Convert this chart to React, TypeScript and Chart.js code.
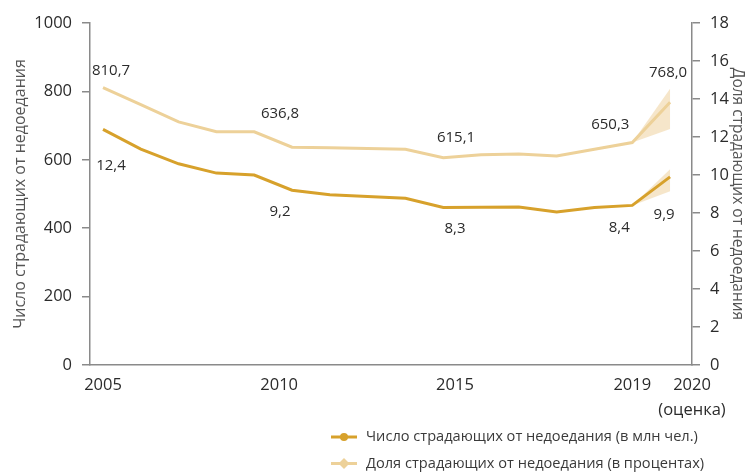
import React, { useEffect, useRef } from 'react';
import { Chart, registerables } from 'chart.js';

Chart.register(...registerables);

// ---------- data ----------
const years = [2005, 2006, 2007, 2008, 2009, 2010, 2011, 2012, 2013, 2014, 2015, 2016, 2017, 2018, 2019, 2020];
// light line, left axis (millions)
const countMillions = [810.7, 761, 711, 682, 682, 636.8, 635, 633, 631, 606, 615.1, 617, 611, 631, 650.3, 768.0];
// dark line, right axis (percent)
const sharePercent = [12.4, 11.36, 10.59, 10.1, 10.0, 9.2, 8.96, 8.87, 8.78, 8.29, 8.3, 8.31, 8.05, 8.29, 8.4, 9.9];
// 2020 estimate ranges
const countRange2020 = [690, 808];
const shareRange2020 = [9.15, 10.3];

const labeledYears = [2005, 2010, 2015, 2019, 2020];

const xTickAt = [2005, 2009.66, 2014.31, 2019, 2020.58];
const xTickLabels: (string | string[])[] = ['2005', '2010', '2015', '2019', ['2020', '(оценка)']];

const legendLabels = [
  'Число страдающих от недоедания (в млн чел.)',
  'Доля страдающих от недоедания (в процентах)',
];
const leftAxisTitle = 'Число страдающих от недоедания';
const rightAxisTitle = 'Доля страдающих от недоедания';

// ---------- style ----------
const DARK = '#D7A12B';
const LIGHT = '#EDD199';
const BAND = 'rgba(238, 206, 150, 0.5)';
const AXIS = '#8a8a8a';
const TEXT = '#2b2b2b';
const FONT = '"Open Sans", sans-serif';

const fmt = (v: number) => v.toFixed(1).replace('.', ',');

const labelPlugin = {
  id: 'pointValueLabels',
  afterDatasetsDraw(chart: any, _args: any, opts: any) {
    const { ctx } = chart;
    const xs = chart.scales.x;
    ctx.save();
    ctx.font = `15px ${FONT}`;
    ctx.fillStyle = TEXT;
    ctx.textAlign = 'center';
    ctx.textBaseline = 'middle';
    opts.series.forEach((s: any) => {
      const ds = chart.data.datasets[s.datasetIndex];
      const ys = chart.scales[ds.yAxisID];
      labeledYears.forEach((yr, k) => {
        const idx = years.indexOf(yr);
        const v = ds.data[idx].y;
        const [dx, dy] = s.offsets[k];
        ctx.fillText(fmt(v), xs.getPixelForValue(yr) + dx, ys.getPixelForValue(v) + dy);
      });
    });
    ctx.restore();
  },
};

const legendPlugin = {
  id: 'lineLegend',
  afterDraw(chart: any, _args: any, opts: any) {
    const { ctx } = chart;
    ctx.save();
    ctx.font = `14.6px ${FONT}`;
    ctx.textBaseline = 'middle';
    ctx.textAlign = 'left';
    opts.items.forEach((datasetIndex: number, row: number) => {
      const ds = chart.data.datasets[datasetIndex];
      const y = opts.top + row * opts.rowGap;
      const x = opts.left;
      ctx.strokeStyle = ds.borderColor;
      ctx.lineWidth = 3;
      ctx.beginPath();
      ctx.moveTo(x, y);
      ctx.lineTo(x + opts.lineLength, y);
      ctx.stroke();
      const cx = x + opts.lineLength / 2;
      ctx.fillStyle = ds.borderColor;
      ctx.beginPath();
      if (ds.pointStyle === 'rectRot') {
        const r = 5.5;
        ctx.moveTo(cx, y - r);
        ctx.lineTo(cx + r, y);
        ctx.lineTo(cx, y + r);
        ctx.lineTo(cx - r, y);
        ctx.closePath();
      } else {
        ctx.arc(cx, y, 4, 0, Math.PI * 2);
      }
      ctx.fill();
      ctx.fillStyle = '#3a3a3a';
      ctx.fillText(ds.label, x + opts.lineLength + opts.gap, y);
    });
    ctx.restore();
  },
};

export default function App() {
  const ref = useRef<HTMLCanvasElement | null>(null);

  useEffect(() => {
    if (!ref.current) return;
    Chart.defaults.font.family = FONT;
    const i2019 = years.indexOf(2019);
    const pts = (vals: number[]) => years.map((x, i) => ({ x, y: vals[i] }));

    const chart = new Chart(ref.current, {
      type: 'line',
      data: {
        datasets: [
          {
            label: legendLabels[0],
            data: pts(sharePercent),
            yAxisID: 'y1',
            borderColor: DARK,
            backgroundColor: DARK,
            borderWidth: 3,
            pointRadius: 0,
            pointStyle: 'circle',
            fill: false,
            order: 0,
          },
          {
            label: legendLabels[1],
            data: pts(countMillions),
            yAxisID: 'y',
            borderColor: LIGHT,
            backgroundColor: LIGHT,
            borderWidth: 3,
            pointRadius: 0,
            pointStyle: 'rectRot',
            fill: false,
            order: 1,
          },
          {
            data: [{ x: 2019, y: sharePercent[i2019] }, { x: 2020, y: shareRange2020[0] }],
            yAxisID: 'y1',
            borderWidth: 0,
            borderColor: 'rgba(0,0,0,0)',
            pointRadius: 0,
            fill: false,
            order: 5,
          },
          {
            data: [{ x: 2019, y: sharePercent[i2019] }, { x: 2020, y: shareRange2020[1] }],
            yAxisID: 'y1',
            borderWidth: 0,
            borderColor: 'rgba(0,0,0,0)',
            backgroundColor: BAND,
            pointRadius: 0,
            fill: '-1',
            order: 5,
          },
          {
            data: [{ x: 2019, y: countMillions[i2019] }, { x: 2020, y: countRange2020[0] }],
            yAxisID: 'y',
            borderWidth: 0,
            borderColor: 'rgba(0,0,0,0)',
            pointRadius: 0,
            fill: false,
            order: 5,
          },
          {
            data: [{ x: 2019, y: countMillions[i2019] }, { x: 2020, y: countRange2020[1] }],
            yAxisID: 'y',
            borderWidth: 0,
            borderColor: 'rgba(0,0,0,0)',
            backgroundColor: BAND,
            pointRadius: 0,
            fill: '-1',
            order: 5,
          },
        ],
      },
      options: {
        responsive: true,
        maintainAspectRatio: false,
        animation: false,
        layout: { padding: { top: 23, bottom: 0, left: 0, right: 0 } },
        plugins: {
          legend: { display: false },
          tooltip: { enabled: false },
          pointValueLabels: {
            series: [
              { datasetIndex: 1, offsets: [[8, -17], [-12, -33], [-25, -17], [-22, -18], [-2, -30]] },
              { datasetIndex: 0, offsets: [[8, 36], [-12, 22], [-26, 21], [-13, 22], [-6, 38]] },
            ],
          },
          lineLegend: { items: [0, 1], left: 331, top: 437, rowGap: 26.5, lineLength: 26, gap: 9 },
        } as any,
        scales: {
          x: {
            type: 'linear',
            min: 2004.656,
            max: 2020.58,
            grid: { display: false },
            border: { display: true, color: AXIS, width: 1.5 },
            afterBuildTicks: (s: any) => {
              s.ticks = xTickAt.map((v) => ({ value: v }));
            },
            ticks: {
              autoSkip: false,
              maxRotation: 0,
              padding: 0,
              color: TEXT,
              font: { size: 16.5, lineHeight: 1.5 },
              callback: (_v: any, i: number) => xTickLabels[i],
            },
            afterFit: (s: any) => {
              s.height = 108;
            },
          },
          y: {
            position: 'left',
            min: 0,
            max: 1000,
            ticks: { stepSize: 200, padding: 10, color: TEXT, font: { size: 16.5 }, callback: (v: any) => String(v) },
            grid: { drawOnChartArea: false, tickLength: 8, color: AXIS, lineWidth: 1.5 },
            border: { color: AXIS, width: 1.5 },
            title: {
              display: true,
              text: leftAxisTitle,
              color: '#555',
              font: { size: 16 },
              padding: { top: 11, bottom: 0 },
            },
            afterFit: (s: any) => {
              s.width = 90;
            },
          },
          y1: {
            position: 'right',
            min: 0,
            max: 18,
            ticks: { stepSize: 2, padding: 10, color: TEXT, font: { size: 16.5 }, callback: (v: any) => String(v) },
            grid: { drawOnChartArea: false, tickLength: 8, color: AXIS, lineWidth: 1.5 },
            border: { color: AXIS, width: 1.5 },
            title: {
              display: true,
              text: rightAxisTitle,
              color: '#555',
              font: { size: 15.5 },
              padding: { top: 0, bottom: 0 },
            },
            afterFit: (s: any) => {
              s.width = 55;
            },
          },
        },
      } as any,
      plugins: [labelPlugin, legendPlugin],
    });
    return () => chart.destroy();
  }, []);

  return (
    <div style={{ position: 'absolute', left: 0, top: 0, width: 747, height: 473, background: '#fff' }}>
      <canvas ref={ref} />
    </div>
  );
}
